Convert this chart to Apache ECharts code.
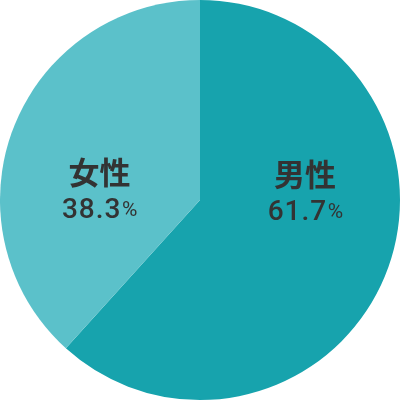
<!DOCTYPE html>
<html><head><meta charset="utf-8">
<script src="https://cdn.jsdelivr.net/npm/echarts@6/dist/echarts.min.js"></script>
<style>html,body{margin:0;padding:0;background:#fff}#c{width:400px;height:400px}</style>
</head><body><div id="c"></div>
<script>
const categories = ['男性', '女性'];
const values = [61.7, 38.3];
const colors = ['#17a3ad', '#5bc1ca'];
const labelOffsets = [[9, -47], [-4.5, 25]];

const chart = echarts.init(document.getElementById('c'));
chart.setOption({
  animation: false,
  series: [{
    type: 'pie',
    radius: ['0%', '100%'],
    center: ['50%', '50%'],
    startAngle: 90,
    clockwise: true,
    silent: true,
    data: categories.map((n, i) => ({
      name: n, value: values[i],
      itemStyle: { color: colors[i] },
      label: { offset: labelOffsets[i] }
    })),
    label: {
      show: true,
      position: 'inside',
      formatter: p => '{n|' + p.name + '}\n' +
        p.value.toFixed(1).split('').map(c => '{v|' + c + '}').join('') + '{p|%}',
      rich: {
        n: { fontSize: 31, fontWeight: 'bold', color: '#333', lineHeight: 46, fontFamily: 'Noto Sans CJK JP' },
        v: { fontSize: 28, fontWeight: 500, color: '#333', fontFamily: 'Roboto', lineHeight: 32, padding: [0, 0.5, 0, 0.5] },
        p: { fontSize: 21, color: '#333', fontFamily: 'Roboto', lineHeight: 32, padding: [0, 0, 0, 1] }
      }
    },
    labelLine: { show: false }
  }]
});
</script></body></html>
